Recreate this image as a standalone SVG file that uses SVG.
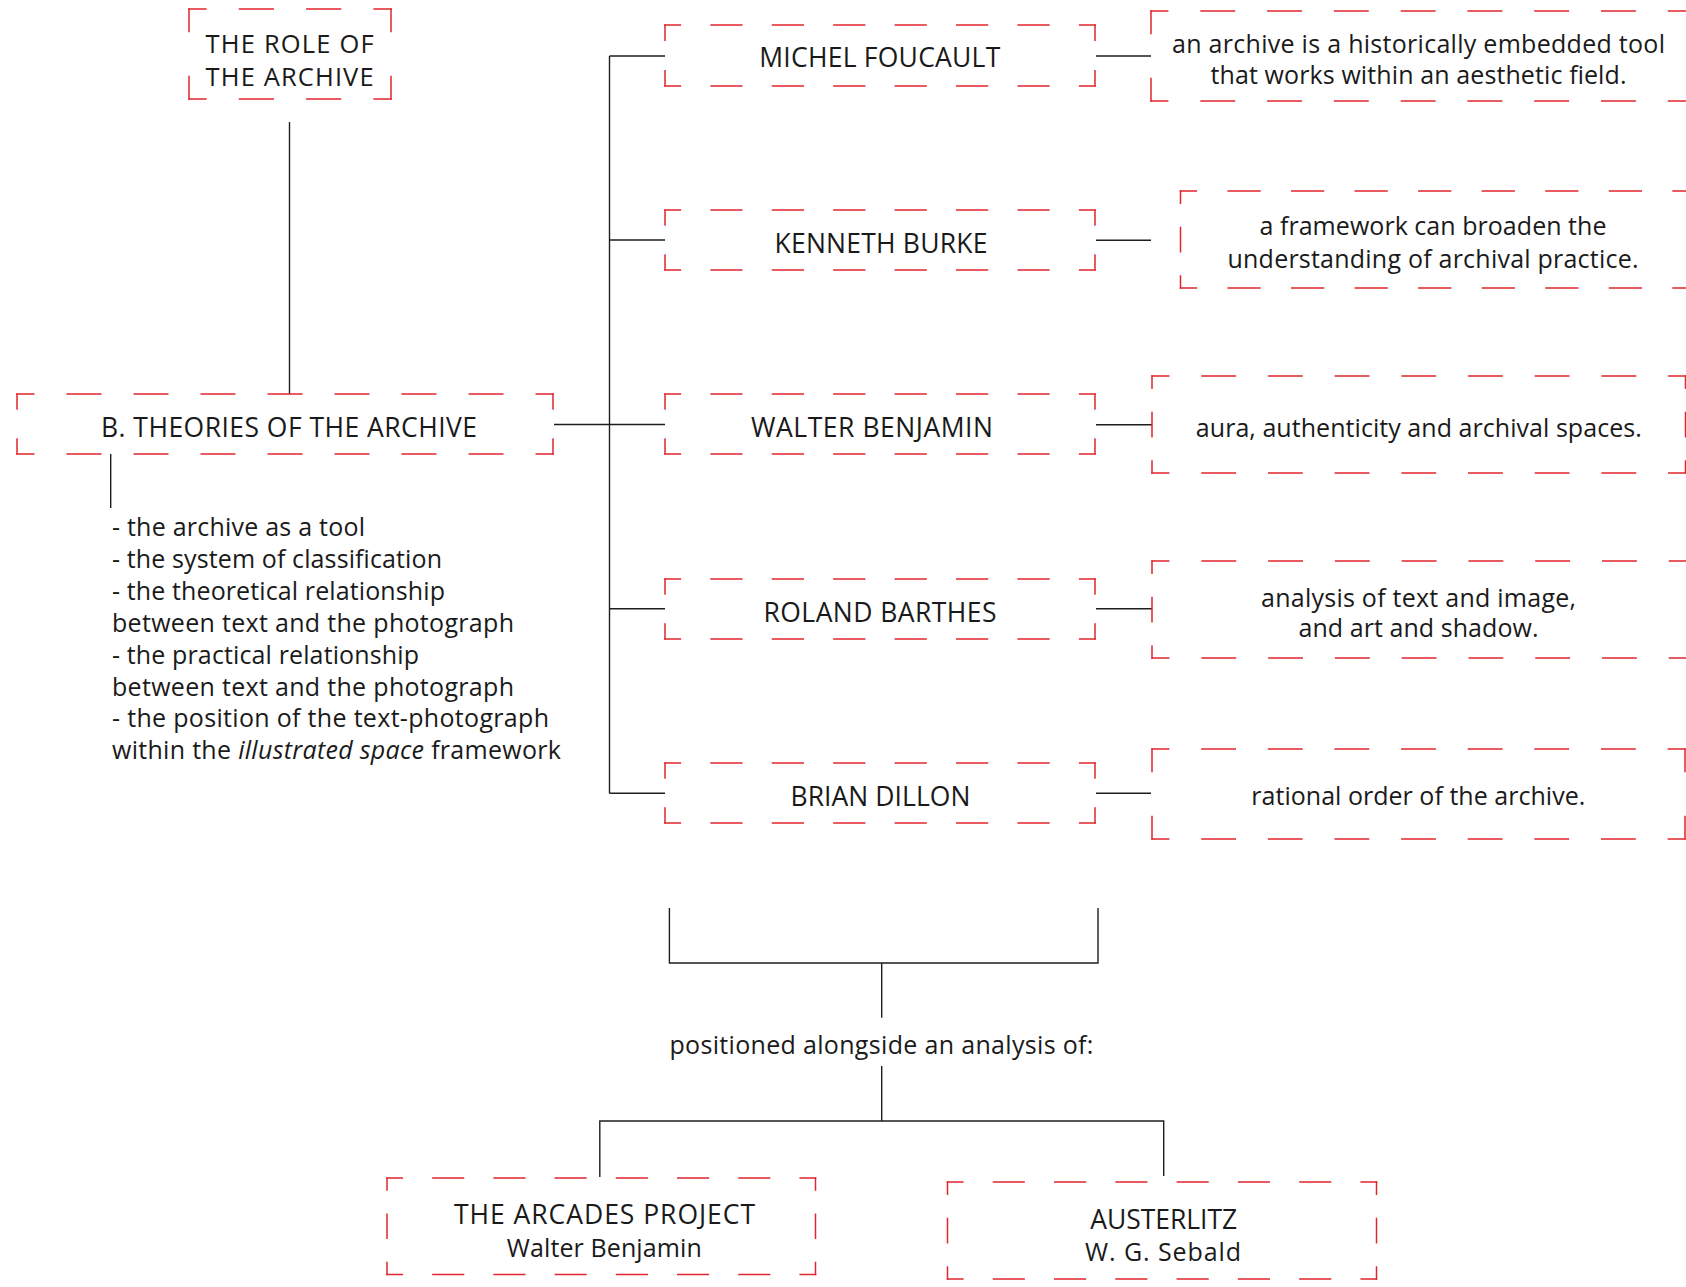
<svg xmlns="http://www.w3.org/2000/svg" width="1686" height="1287" viewBox="0 0 1686 1287">
<style>
.bx{fill:none;stroke:#e1262d;stroke-width:1.5;stroke-dasharray:0.5 1 0.5 0;stroke-linecap:square}
.cn{fill:none;stroke:#1e1e1e;stroke-width:1.4}
.t{font-family:"Open Sans","Noto Sans",sans-serif;font-size:25px;fill:#1a1a1a;text-anchor:middle}
.l{text-anchor:start}
.cap{font-size:26.5px}
.big{font-size:25.5px}
</style>
<rect width="1686" height="1287" fill="#ffffff"/>
<g id="connectors">
<path class="cn" d="M289.5 122V394"/>
<path class="cn" d="M554 424.5H609.5"/>
<path class="cn" d="M609.5 56V793.5"/>
<path class="cn" d="M609.5 56H665M609.5 240H665M609.5 424.5H665M609.5 608.7H665M609.5 793.3H665"/>
<path class="cn" d="M1096 56H1151M1096 240.3H1151M1096 424.7H1152M1096 608.7H1152M1096 793.3H1151"/>
<path class="cn" d="M110.7 454V508"/>
<path class="cn" d="M669.4 908V963H1098V908"/>
<path class="cn" d="M881.7 963V1017.7M881.7 1066V1121"/>
<path class="cn" d="M599.8 1177V1121H1163.7V1176"/>
</g>
<g id="role">
<path class="bx" d="M189 9H391" pathLength="6"/><path class="bx" d="M189 99H391" pathLength="6"/>
<path class="bx" d="M189 9V99" pathLength="2"/><path class="bx" d="M391 9V99" pathLength="2"/>
<text class="t big" x="289.6" y="53" textLength="168" lengthAdjust="spacing">THE ROLE OF</text>
<text class="t big" x="289.6" y="85.5" textLength="168" lengthAdjust="spacing">THE ARCHIVE</text>
</g>
<g id="theories">
<path class="bx" d="M17 394H553" pathLength="16"/><path class="bx" d="M17 454H553" pathLength="16"/>
<path class="bx" d="M17 394V454" pathLength="2"/><path class="bx" d="M553 394V454" pathLength="2"/>
<text class="t cap" x="289" y="436.7" textLength="376" lengthAdjust="spacing">B. THEORIES OF THE ARCHIVE</text>
</g>
<g id="theories-notes">
<text class="t l" x="112" y="536" textLength="253" lengthAdjust="spacing">- the archive as a tool</text>
<text class="t l" x="112" y="567.9" textLength="330" lengthAdjust="spacing">- the system of classification</text>
<text class="t l" x="112" y="599.8" textLength="333" lengthAdjust="spacing">- the theoretical relationship</text>
<text class="t l" x="112" y="631.7" textLength="402" lengthAdjust="spacing">between text and the photograph</text>
<text class="t l" x="112" y="663.6" textLength="307" lengthAdjust="spacing">- the practical relationship</text>
<text class="t l" x="112" y="695.5" textLength="402" lengthAdjust="spacing">between text and the photograph</text>
<text class="t l" x="112" y="727.4" textLength="437" lengthAdjust="spacing">- the position of the text-photograph</text>
<text class="t l" x="112" y="759.3" textLength="449" lengthAdjust="spacing">within the <tspan font-style="italic">illustrated space</tspan> framework</text>
</g>
<g id="foucault">
<path class="bx" d="M665 25H1095" pathLength="14"/><path class="bx" d="M665 86H1095" pathLength="14"/>
<path class="bx" d="M665 25V86" pathLength="2"/><path class="bx" d="M1095 25V86" pathLength="2"/>
<text class="t cap" x="879.8" y="66.7" textLength="241" lengthAdjust="spacing">MICHEL FOUCAULT</text>
</g>
<g id="burke">
<path class="bx" d="M665 210H1095" pathLength="14"/><path class="bx" d="M665 270H1095" pathLength="14"/>
<path class="bx" d="M665 210V270" pathLength="2"/><path class="bx" d="M1095 210V270" pathLength="2"/>
<text class="t cap" x="881" y="253.3" textLength="213" lengthAdjust="spacing">KENNETH BURKE</text>
</g>
<g id="benjamin">
<path class="bx" d="M665 394H1095" pathLength="14"/><path class="bx" d="M665 454H1095" pathLength="14"/>
<path class="bx" d="M665 394V454" pathLength="2"/><path class="bx" d="M1095 394V454" pathLength="2"/>
<text class="t cap" x="872" y="437.3" textLength="242" lengthAdjust="spacing">WALTER BENJAMIN</text>
</g>
<g id="barthes">
<path class="bx" d="M665 579H1095" pathLength="14"/><path class="bx" d="M665 639H1095" pathLength="14"/>
<path class="bx" d="M665 579V639" pathLength="2"/><path class="bx" d="M1095 579V639" pathLength="2"/>
<text class="t cap" x="880" y="621.7" textLength="233" lengthAdjust="spacing">ROLAND BARTHES</text>
</g>
<g id="dillon">
<path class="bx" d="M665 763H1095" pathLength="14"/><path class="bx" d="M665 823H1095" pathLength="14"/>
<path class="bx" d="M665 763V823" pathLength="2"/><path class="bx" d="M1095 763V823" pathLength="2"/>
<text class="t cap" x="880.5" y="806" textLength="180" lengthAdjust="spacing">BRIAN DILLON</text>
</g>
<g id="desc-foucault">
<path class="bx" d="M1151 11H1752" pathLength="18"/><path class="bx" d="M1151 101H1752" pathLength="18"/>
<path class="bx" d="M1151 11V101" pathLength="2"/><path class="bx" d="M1752 11V101" pathLength="2"/>
<text class="t" x="1418.5" y="52.5" textLength="493" lengthAdjust="spacing">an archive is a historically embedded tool</text>
<text class="t" x="1418.5" y="83.5" textLength="416" lengthAdjust="spacing">that works within an aesthetic field.</text>
</g>
<g id="desc-burke">
<path class="bx" d="M1180.5 191H1752.5" pathLength="18"/><path class="bx" d="M1180.5 288H1752.5" pathLength="18"/>
<path class="bx" d="M1180.5 191V288" pathLength="4"/><path class="bx" d="M1752.5 191V288" pathLength="4"/>
<text class="t" x="1433" y="235" textLength="347" lengthAdjust="spacing">a framework can broaden the</text>
<text class="t" x="1433" y="268.3" textLength="411" lengthAdjust="spacing">understanding of archival practice.</text>
</g>
<g id="desc-benjamin">
<path class="bx" d="M1152 376H1685.5" pathLength="16"/><path class="bx" d="M1152 473H1685.5" pathLength="16"/>
<path class="bx" d="M1152 376V473" pathLength="4"/><path class="bx" d="M1685.5 376V473" pathLength="4"/>
<text class="t" x="1418.8" y="436.7" textLength="446" lengthAdjust="spacing">aura, authenticity and archival spaces.</text>
</g>
<g id="desc-barthes">
<path class="bx" d="M1152 561H1753" pathLength="18"/><path class="bx" d="M1152 658H1753" pathLength="18"/>
<path class="bx" d="M1152 561V658" pathLength="4"/><path class="bx" d="M1753 561V658" pathLength="4"/>
<text class="t" x="1418.5" y="606.5" textLength="315" lengthAdjust="spacing">analysis of text and image,</text>
<text class="t" x="1418.5" y="637.3" textLength="240" lengthAdjust="spacing">and art and shadow.</text>
</g>
<g id="desc-dillon">
<path class="bx" d="M1152 749H1685" pathLength="16"/><path class="bx" d="M1152 839H1685" pathLength="16"/>
<path class="bx" d="M1152 749V839" pathLength="2"/><path class="bx" d="M1685 749V839" pathLength="2"/>
<text class="t" x="1418.3" y="805" textLength="334" lengthAdjust="spacing">rational order of the archive.</text>
</g>
<g id="positioned">
<text class="t" x="881.4" y="1054" textLength="424" lengthAdjust="spacing">positioned alongside an analysis of:</text>
</g>
<g id="arcades">
<path class="bx" d="M387 1178H815.5" pathLength="14"/><path class="bx" d="M387 1274.5H815.5" pathLength="14"/>
<path class="bx" d="M387 1178V1274.5" pathLength="4"/><path class="bx" d="M815.5 1178V1274.5" pathLength="4"/>
<text class="t cap" x="604.5" y="1224" textLength="301" lengthAdjust="spacing">THE ARCADES PROJECT</text>
<text class="t" x="604.3" y="1256.7" textLength="195" lengthAdjust="spacing">Walter Benjamin</text>
</g>
<g id="austerlitz">
<path class="bx" d="M947.5 1182H1376.5" pathLength="14"/><path class="bx" d="M947.5 1279H1376.5" pathLength="14"/>
<path class="bx" d="M947.5 1182V1279" pathLength="4"/><path class="bx" d="M1376.5 1182V1279" pathLength="4"/>
<text class="t cap" x="1163.7" y="1229.3" textLength="147" lengthAdjust="spacing">AUSTERLITZ</text>
<text class="t" x="1163" y="1261" textLength="156" lengthAdjust="spacing">W. G. Sebald</text>
</g>
</svg>
